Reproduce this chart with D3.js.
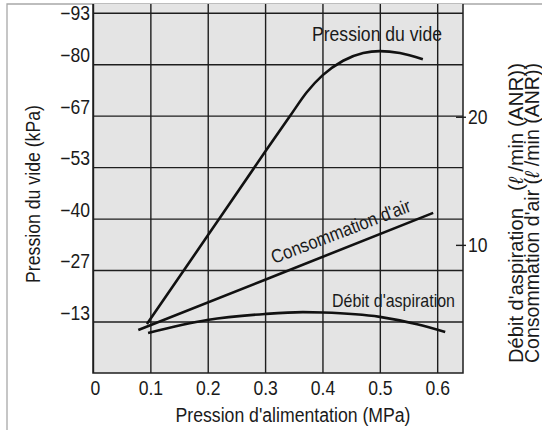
<!DOCTYPE html>
<html>
<head>
<meta charset="utf-8">
<script src="https://cdn.jsdelivr.net/npm/d3@7"></script>
<style>
  body { margin: 0; background: #fff; }
  text { font-family: "Liberation Sans", Arial, sans-serif; fill: #1a1a1a; }
</style>
</head>
<body>
<div id="chart"></div>
<script>
// Data
const xTicks = [0, 0.1, 0.2, 0.3, 0.4, 0.5, 0.6];
const xTickLabels = ["0", "0.1", "0.2", "0.3", "0.4", "0.5", "0.6"];
const vacuumTicks = [-13.33, -26.67, -40, -53.33, -66.67, -80, -93.33];
const vacuumTickLabels = ["−13", "−27", "−40", "−53", "−67", "−80", "−93"];
const flowTicks = [10, 20];

// Pression du vide (kPa) vs supply pressure (MPa)
const vacuumX = [0.094, 0.20, 0.30, 0.344, 0.373, 0.40, 0.436, 0.471, 0.500, 0.535, 0.575];
const vacuumY = [-12.7, -35.6, -57.3, -66.7, -72.8, -77.1, -80.9, -82.9, -83.4, -82.9, -81.3];

// Consommation d'air (l/min ANR)
const airX = [0.079, 0.30, 0.593];
const airY = [3.36, 7.28, 12.5];

// Debit d'aspiration (l/min ANR)
const suctionX = [0.096, 0.199, 0.300, 0.366, 0.401, 0.500, 0.565, 0.614];
const suctionY = [3.13, 4.14, 4.61, 4.75, 4.72, 4.38, 3.80, 3.2];

// Setting margins
const margin = { top: 4, right: 79, bottom: 57, left: 93 };
const width = 542 - margin.left - margin.right;
const height = 430 - margin.top - margin.bottom;

// squeeze text horizontally, the original uses a condensed face
function condense(sel, k) {
    sel.each(function () {
        const w = this.getComputedTextLength();
        d3.select(this)
            .attr("textLength", w * k)
            .attr("lengthAdjust", "spacingAndGlyphs");
    });
}

const root = d3.select("#chart")
    .append("svg")
    .attr("width", 542)
    .attr("height", 430);

// light outer frame
root.append("path")
    .attr("d", "M7,430 V4 H542")
    .attr("fill", "none")
    .attr("stroke", "#a8a8a8")
    .attr("stroke-width", 1.3);

const svg = root.append("g")
    .attr("transform", "translate(" + margin.left + "," + margin.top + ")");

// Scales
const x = d3.scaleLinear().domain([0, 0.645]).range([0, width]);
const yLeft = d3.scaleLinear().domain([0, -95.6]).range([height, 0]);
const yRight = d3.scaleLinear().domain([0, 28.8]).range([height, 0]);

// plot background
svg.append("rect")
    .attr("width", width)
    .attr("height", height)
    .attr("fill", "#e4e4e4");

// X axis with vertical grid
const xAxis = svg.append("g")
    .attr("transform", "translate(0," + height + ")")
    .call(d3.axisBottom(x)
        .tickValues(xTicks)
        .tickFormat((d, i) => xTickLabels[i])
        .tickSize(-height)
        .tickPadding(8));
xAxis.select(".domain").remove();
xAxis.selectAll("line").attr("stroke", "#1e1e1e").attr("stroke-width", 1.4);
xAxis.selectAll("text")
    .attr("font-size", "19.5px")
    .attr("dy", "0.72em")
    .attr("dx", d => d === 0 ? 2 : 0)
    .call(condense, 0.9);

// Left axis with horizontal grid
const yAxis = svg.append("g")
    .call(d3.axisLeft(yLeft)
        .tickValues(vacuumTicks)
        .tickFormat((d, i) => vacuumTickLabels[i])
        .tickSize(-width)
        .tickPadding(3));
yAxis.select(".domain").remove();
yAxis.selectAll("line").attr("stroke", "#1e1e1e").attr("stroke-width", 1.4);
yAxis.selectAll("text")
    .attr("font-size", "19.5px")
    .attr("dy", d => d < -90 ? "0.36em" : "-0.12em")
    .call(condense, 0.9);

// plot border (left, bottom, right)
svg.append("path")
    .attr("d", `M0,0 V${height} H${width} V0`)
    .attr("fill", "none")
    .attr("stroke", "#1e1e1e")
    .attr("stroke-width", 1.5);

// Right axis (l/min)
const rAxis = svg.append("g")
    .attr("transform", `translate(${width},0)`)
    .call(d3.axisRight(yRight)
        .tickValues(flowTicks)
        .tickSizeInner(3)
        .tickSizeOuter(0)
        .tickPadding(2));
rAxis.select(".domain").remove();
rAxis.selectAll("line")
    .attr("x1", -7)
    .attr("stroke", "#1e1e1e")
    .attr("stroke-width", 1.4);
rAxis.selectAll("text")
    .attr("font-size", "19.5px")
    .call(condense, 0.9);

// Curves
const line = d3.line().curve(d3.curveMonotoneX);

svg.append("path")
    .attr("d", line(vacuumX.map((v, i) => [x(v), yLeft(vacuumY[i])])))
    .attr("fill", "none")
    .attr("stroke", "#111")
    .attr("stroke-width", 2.6);

svg.append("path")
    .attr("d", line(airX.map((v, i) => [x(v), yRight(airY[i])])))
    .attr("fill", "none")
    .attr("stroke", "#111")
    .attr("stroke-width", 2.6);

svg.append("path")
    .attr("d", line(suctionX.map((v, i) => [x(v), yRight(suctionY[i])])))
    .attr("fill", "none")
    .attr("stroke", "#111")
    .attr("stroke-width", 2.6);

// Curve labels
svg.append("text")
    .attr("x", 312 - margin.left)
    .attr("y", 41 - margin.top)
    .attr("font-size", "19.5px")
    .attr("textLength", 130)
    .attr("lengthAdjust", "spacingAndGlyphs")
    .text("Pression du vide");

svg.append("text")
    .attr("transform", `translate(${274 - margin.left},${264 - margin.top}) rotate(-21)`)
    .attr("font-size", "19px")
    .attr("textLength", 148)
    .attr("lengthAdjust", "spacingAndGlyphs")
    .text("Consommation d'air");

svg.append("text")
    .attr("x", 332 - margin.left)
    .attr("y", 307 - margin.top)
    .attr("font-size", "19px")
    .attr("textLength", 123)
    .attr("lengthAdjust", "spacingAndGlyphs")
    .text("Débit d'aspiration");

// X axis label
root.append("text")
    .attr("x", 293)
    .attr("y", 422)
    .attr("text-anchor", "middle")
    .attr("font-size", "19.5px")
    .attr("textLength", 235)
    .attr("lengthAdjust", "spacingAndGlyphs")
    .text("Pression d'alimentation (MPa)");

// Y axis label
root.append("text")
    .attr("transform", "translate(40,194) rotate(-90)")
    .attr("text-anchor", "middle")
    .attr("font-size", "19.5px")
    .attr("textLength", 178)
    .attr("lengthAdjust", "spacingAndGlyphs")
    .text("Pression du vide (kPa)");

// Right axis labels (two lines)
root.append("text")
    .attr("transform", "translate(523,363) rotate(-90)")
    .attr("font-size", "20.5px")
    .attr("textLength", 155)
    .attr("lengthAdjust", "spacingAndGlyphs")
    .text("Débit d'aspiration");

const unit1 = root.append("text")
    .attr("transform", "translate(523,63) rotate(-90)")
    .attr("text-anchor", "end")
    .attr("font-size", "20.5px");
unit1.append("tspan").text("(");
unit1.append("tspan").attr("font-style", "italic").text("ℓ");
unit1.append("tspan").text(" /min (ANR))");
unit1.attr("textLength", 128).attr("lengthAdjust", "spacingAndGlyphs");

const line2 = root.append("text")
    .attr("transform", "translate(539,363) rotate(-90)")
    .attr("font-size", "20.5px");
line2.append("tspan").text("Consommation d'air (");
line2.append("tspan").attr("font-style", "italic").text("ℓ");
line2.append("tspan").text(" /min (ANR))");
line2.attr("textLength", 300).attr("lengthAdjust", "spacingAndGlyphs");
</script>
</body>
</html>
